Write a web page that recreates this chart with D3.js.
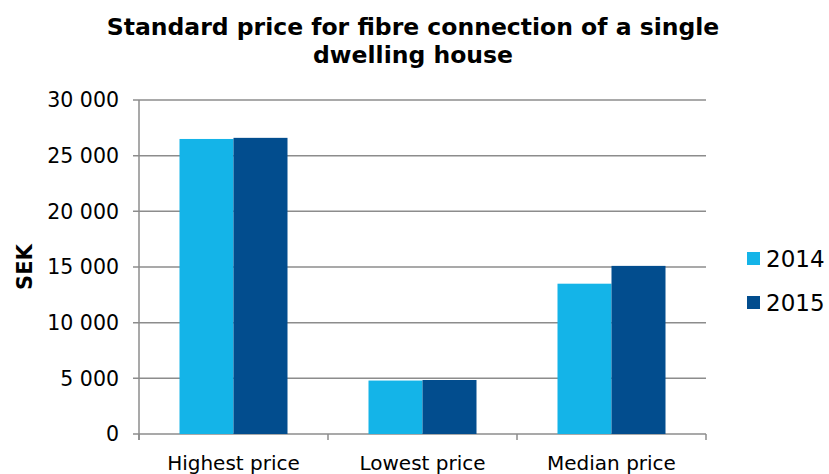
<!DOCTYPE html>
<html>
<head>
<meta charset="utf-8">
<script src="https://cdn.jsdelivr.net/npm/d3@7"></script>
<style>
  body { margin: 0; background: #fff; }
  text { font-family: "DejaVu Sans", Verdana, sans-serif; fill: #000; }
</style>
</head>
<body>
<script>
// ---------------------- DATA ----------------------
const categories = ["Highest price", "Lowest price", "Median price"];
const years = ["2014", "2015"];
const values2014 = [26500, 4800, 13500];
const values2015 = [26600, 4850, 15100];
const yTicks = [0, 5000, 10000, 15000, 20000, 25000, 30000];
const colors = ["#14b4e8", "#024d8e"];

// ---------------------- LAYOUT ----------------------
const width = 829, height = 474;
const plot = { left: 139, right: 706, top: 100, bottom: 434 };

const svg = d3.select("body").append("svg")
    .attr("width", width)
    .attr("height", height);

const x = d3.scaleBand()
    .domain(categories)
    .range([plot.left, plot.right]);

const xInner = d3.scaleBand()
    .domain(years)
    .range([0, 108]);

const y = d3.scaleLinear()
    .domain([0, 30000])
    .range([plot.bottom, plot.top]);

const fmt = v => d3.format(",")(v).replace(/,/g, " ");

// gridlines
svg.append("g")
    .selectAll("line")
    .data(yTicks)
    .enter().append("line")
    .attr("x1", plot.left - 6)
    .attr("x2", plot.right)
    .attr("y1", d => y(d))
    .attr("y2", d => y(d))
    .attr("stroke", "#8c8c8c")
    .attr("stroke-width", 1.5);

// y tick labels
svg.append("g")
    .selectAll("text")
    .data(yTicks)
    .enter().append("text")
    .attr("x", 119)
    .attr("y", d => y(d))
    .attr("dy", "0.35em")
    .attr("text-anchor", "end")
    .style("font-size", "20.5px")
    .text(fmt);

// bars
const series = [values2014, values2015];
series.forEach((vals, i) => {
    svg.append("g")
        .selectAll("rect")
        .data(categories)
        .enter().append("rect")
        .attr("x", (c) => x(c) + (x.bandwidth() - 108) / 2 + xInner(years[i]))
        .attr("y", (c, j) => y(vals[j]))
        .attr("width", xInner.bandwidth())
        .attr("height", (c, j) => plot.bottom - y(vals[j]))
        .attr("fill", colors[i]);
});

// y axis line
svg.append("line")
    .attr("x1", plot.left).attr("x2", plot.left)
    .attr("y1", plot.top).attr("y2", plot.bottom + 6)
    .attr("stroke", "#8c8c8c")
    .attr("stroke-width", 1.5);

// category ticks
const catEdges = categories.map(c => x(c)).concat([plot.right]);
svg.append("g")
    .selectAll("line")
    .data(catEdges)
    .enter().append("line")
    .attr("x1", d => d).attr("x2", d => d)
    .attr("y1", plot.bottom).attr("y2", plot.bottom + 6)
    .attr("stroke", "#8c8c8c")
    .attr("stroke-width", 1.5);

// x labels
svg.append("g")
    .selectAll("text")
    .data(categories)
    .enter().append("text")
    .attr("x", c => x(c) + x.bandwidth() / 2)
    .attr("y", 470)
    .attr("text-anchor", "middle")
    .style("font-size", "20px")
    .text(d => d);

// axis title
svg.append("text")
    .attr("transform", "translate(32,267) rotate(-90)")
    .attr("text-anchor", "middle")
    .style("font-size", "21px")
    .style("font-weight", "bold")
    .text("SEK");

// chart title
svg.append("text")
    .attr("text-anchor", "middle")
    .style("font-size", "23.5px")
    .style("font-weight", "bold")
    .selectAll("tspan")
    .data(["Standard price for fibre connection of a single", "dwelling house"])
    .enter().append("tspan")
    .attr("x", 413)
    .attr("y", (d, i) => 35 + i * 28)
    .text(d => d);

// legend
const legend = svg.append("g")
    .selectAll("g")
    .data(years)
    .enter().append("g")
    .attr("transform", (d, i) => `translate(747,${252 + i * 44})`);

legend.append("rect")
    .attr("width", 13)
    .attr("height", 13)
    .attr("fill", (d, i) => colors[i]);

legend.append("text")
    .attr("x", 19)
    .attr("y", 7)
    .attr("dy", "0.36em")
    .style("font-size", "23px")
    .text(d => d);
</script>
</body>
</html>
